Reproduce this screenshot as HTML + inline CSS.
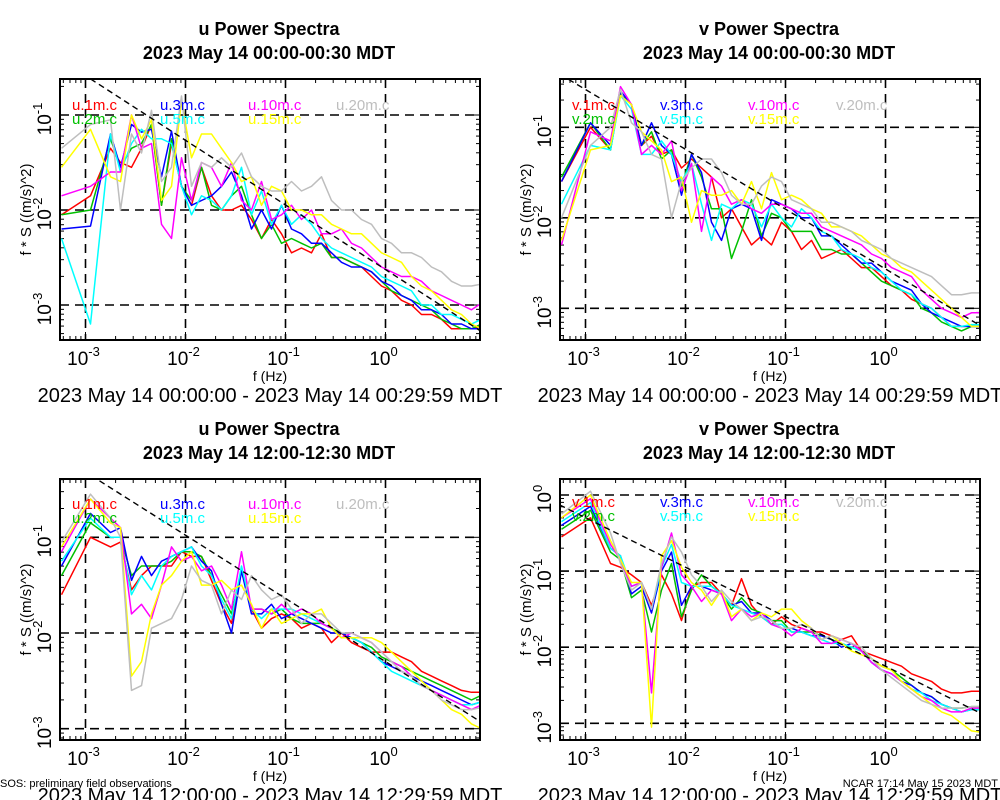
<!DOCTYPE html>
<html><head><meta charset="utf-8"><style>
html,body{margin:0;padding:0;background:#fff;}
svg{display:block;font-family:"Liberation Sans",Arial,sans-serif;}
</style></head><body>
<svg id="chart" width="1000" height="800" viewBox="0 0 1000 800" xmlns="http://www.w3.org/2000/svg"></svg>
<script>
// log10 frequency (Hz) sample points
const freqLog = [-3.24,-2.95,-2.75,-2.65,-2.54,-2.44,-2.34,-2.24,-2.14,-2.04,-1.94,-1.84,-1.74,-1.64,-1.54,-1.44,-1.34,-1.24,-1.14,-1.04,-0.94,-0.84,-0.74,-0.64,-0.54,-0.44,-0.34,-0.24,-0.14,-0.04,0.06,0.16,0.26,0.36,0.46,0.56,0.66,0.76,0.86,0.96];
const seriesColors = ["#ff0000","#00c000","#0000ff","#00ffff","#ff00ff","#ffff00","#bebebe"];
const heightsU = ["1m","2m","3m","5m","10m","15m","20m"];
const xTickLabels = ["-3","-2","-1","0"];

// Panel 1: u, 00:00-00:30 (log10 of f*S)
const p1_red = [-2.05,-1.85,-1.35,-1.5,-1.55,-1.35,-1.1,-1.95,-1.3,-1.75,-1.95,-1.55,-1.85,-2.0,-2.0,-1.95,-2.1,-2.3,-2.1,-2.25,-2.45,-2.4,-2.45,-2.25,-2.5,-2.5,-2.55,-2.6,-2.7,-2.8,-2.85,-2.95,-3.0,-3.1,-3.1,-3.15,-3.25,-3.25,-3.25,-3.22];
const p1_green = [-2.05,-2.0,-1.25,-1.55,-1.35,-1.3,-1.1,-1.95,-1.25,-1.75,-1.9,-1.55,-1.95,-2.0,-1.85,-1.75,-2.05,-2.3,-2.15,-2.35,-2.3,-2.35,-2.4,-2.35,-2.5,-2.5,-2.55,-2.6,-2.65,-2.75,-2.85,-2.9,-2.95,-3.0,-3.05,-3.15,-3.2,-3.25,-3.25,-3.2];
const p1_blue = [-2.2,-2.17,-1.2,-1.55,-1.1,-1.18,-1.15,-1.65,-1.17,-1.75,-1.95,-1.9,-1.85,-1.75,-1.6,-1.85,-2.2,-2.0,-2.2,-1.95,-2.2,-2.25,-2.35,-2.35,-2.45,-2.55,-2.6,-2.6,-2.65,-2.75,-2.8,-2.9,-2.95,-3.05,-3.05,-3.1,-3.2,-3.2,-3.25,-3.25];
const p1_cyan = [-2.3,-3.2,-1.2,-1.6,-1.3,-1.15,-1.25,-1.25,-1.3,-1.75,-2.05,-1.85,-1.9,-2.0,-1.85,-1.55,-2.05,-1.8,-2.15,-1.95,-2.15,-2.05,-2.15,-2.3,-2.4,-2.45,-2.5,-2.55,-2.6,-2.7,-2.75,-2.8,-2.85,-3.0,-3.0,-3.1,-3.1,-3.15,-3.2,-3.15];
const p1_magenta = [-1.85,-1.75,-1.6,-1.6,-1.0,-1.35,-1.3,-2.15,-2.3,-1.45,-1.9,-1.5,-1.55,-1.75,-1.5,-1.9,-2.0,-1.7,-2.1,-2.05,-1.95,-2.1,-2.0,-2.25,-2.25,-2.2,-2.35,-2.4,-2.5,-2.6,-2.65,-2.7,-2.7,-2.75,-2.85,-2.9,-2.95,-3.0,-3.05,-2.98];
const p1_yellow = [-1.55,-1.15,-1.65,-1.7,-1.0,-1.25,-1.05,-1.9,-1.75,-0.85,-1.45,-1.2,-1.2,-1.35,-1.5,-1.7,-1.65,-1.95,-1.75,-1.8,-2.0,-2.0,-2.05,-2.05,-2.15,-2.2,-2.25,-2.25,-2.35,-2.45,-2.5,-2.55,-2.7,-2.8,-2.85,-2.95,-3.05,-3.1,-3.2,-3.25];
const p1_gray = [-1.35,-1.1,-1.05,-2.0,-1.2,-1.4,-0.95,-1.7,-1.55,-0.8,-1.75,-1.5,-1.55,-1.45,-1.55,-1.4,-1.65,-1.75,-1.8,-1.8,-1.7,-1.8,-1.75,-1.65,-1.9,-2.0,-2.0,-2.1,-2.15,-2.3,-2.35,-2.45,-2.45,-2.5,-2.6,-2.65,-2.75,-2.8,-2.8,-2.78];

// Panel 2: v, 00:00-00:30
const p2_red = [-1.6,-1.0,-1.25,-0.62,-0.75,-1.2,-1.1,-1.3,-1.25,-1.45,-1.35,-1.45,-1.55,-2.0,-1.9,-2.1,-2.3,-2.2,-2.3,-2.05,-2.15,-2.35,-2.25,-2.45,-2.4,-2.35,-2.45,-2.55,-2.55,-2.65,-2.75,-2.8,-2.9,-2.95,-3.0,-3.1,-3.2,-3.2,-3.2,-3.2];
const p2_green = [-1.55,-0.95,-1.25,-0.62,-0.75,-1.2,-1.05,-1.35,-1.25,-1.65,-1.3,-1.55,-1.9,-1.9,-2.45,-2.15,-1.8,-2.2,-1.95,-2.0,-2.15,-2.15,-2.15,-2.35,-2.35,-2.4,-2.4,-2.5,-2.6,-2.7,-2.75,-2.8,-2.85,-3.0,-3.05,-3.15,-3.2,-3.25,-3.2,-3.2];
const p2_blue = [-1.6,-0.95,-1.2,-0.6,-0.75,-1.2,-0.95,-1.2,-1.3,-1.75,-1.3,-1.5,-2.05,-2.25,-1.9,-1.85,-1.9,-2.25,-1.8,-1.85,-1.9,-2.0,-2.0,-2.2,-2.2,-2.3,-2.4,-2.5,-2.5,-2.6,-2.7,-2.75,-2.8,-2.95,-3.05,-3.1,-3.15,-3.2,-3.2,-3.2];
const p2_cyan = [-1.85,-1.2,-1.25,-0.65,-0.8,-1.3,-1.3,-1.15,-1.3,-1.6,-1.4,-1.85,-2.25,-1.85,-1.9,-1.8,-1.85,-2.1,-1.85,-2.0,-2.1,-1.9,-2.0,-2.15,-2.2,-2.35,-2.4,-2.45,-2.55,-2.6,-2.7,-2.8,-2.85,-2.95,-3.0,-3.1,-3.2,-3.2,-3.18,-3.18];
const p2_magenta = [-2.3,-1.05,-1.15,-0.55,-0.75,-1.3,-1.2,-1.3,-1.15,-1.7,-1.4,-2.15,-1.55,-1.65,-1.85,-1.8,-1.9,-1.95,-1.85,-1.85,-1.9,-1.95,-1.95,-2.1,-2.15,-2.2,-2.25,-2.3,-2.4,-2.45,-2.55,-2.6,-2.65,-2.8,-2.9,-3.0,-3.05,-3.1,-3.05,-3.05];
const p2_yellow = [-2.25,-1.25,-1.2,-0.65,-0.75,-1.05,-1.15,-1.25,-1.6,-1.55,-2.05,-1.7,-1.75,-1.75,-1.7,-1.85,-1.6,-1.9,-1.5,-1.8,-1.75,-1.8,-1.9,-1.95,-2.1,-2.1,-2.15,-2.2,-2.3,-2.4,-2.45,-2.55,-2.6,-2.7,-2.8,-2.9,-3.0,-3.1,-3.2,-3.2];
const p2_gray = [-2.0,-1.2,-1.0,-0.58,-0.95,-1.05,-1.3,-1.35,-2.0,-1.6,-1.45,-1.35,-1.35,-1.5,-1.75,-1.85,-1.85,-1.65,-1.55,-1.6,-1.8,-1.85,-1.9,-2.05,-2.05,-2.1,-2.15,-2.25,-2.3,-2.35,-2.45,-2.5,-2.55,-2.6,-2.65,-2.75,-2.85,-2.85,-2.83,-2.83];

// Panel 3: u, 12:00-12:30
const p3_red = [-1.6,-1.0,-1.1,-1.05,-1.55,-1.4,-1.3,-1.3,-1.3,-1.15,-1.2,-1.2,-1.45,-1.7,-1.9,-1.35,-1.75,-1.95,-1.85,-1.8,-1.85,-1.95,-1.9,-1.95,-2.1,-2.0,-2.1,-2.15,-2.2,-2.2,-2.2,-2.25,-2.3,-2.4,-2.45,-2.5,-2.55,-2.6,-2.62,-2.62];
const p3_green = [-1.4,-0.85,-1.0,-1.0,-1.4,-1.3,-1.3,-1.3,-1.25,-1.15,-1.15,-1.2,-1.4,-1.6,-1.8,-1.35,-1.75,-1.75,-1.8,-1.75,-1.85,-1.9,-1.9,-1.9,-1.95,-2.0,-2.05,-2.1,-2.15,-2.25,-2.3,-2.35,-2.4,-2.45,-2.5,-2.55,-2.6,-2.65,-2.7,-2.65];
const p3_blue = [-1.3,-0.75,-0.95,-0.9,-1.45,-1.2,-1.4,-1.25,-1.2,-1.15,-1.1,-1.25,-1.35,-1.7,-2.0,-1.35,-1.8,-1.8,-1.7,-1.85,-1.8,-1.85,-1.9,-1.95,-2.0,-2.0,-2.05,-2.1,-2.2,-2.3,-2.35,-2.4,-2.45,-2.5,-2.55,-2.6,-2.65,-2.7,-2.75,-2.72];
const p3_cyan = [-1.25,-0.8,-1.0,-1.0,-1.6,-1.4,-1.55,-1.3,-1.2,-1.15,-1.1,-1.3,-1.4,-1.65,-1.85,-1.3,-1.75,-1.85,-1.75,-1.75,-1.75,-1.8,-1.85,-1.9,-1.95,-2.05,-2.05,-2.1,-2.2,-2.3,-2.4,-2.45,-2.5,-2.55,-2.6,-2.65,-2.7,-2.75,-2.75,-2.72];
const p3_magenta = [-1.15,-0.6,-0.8,-0.9,-1.8,-1.7,-1.85,-1.5,-1.1,-1.25,-1.2,-1.35,-1.3,-1.5,-1.75,-1.15,-1.75,-1.75,-1.8,-1.7,-1.8,-1.75,-1.8,-1.9,-1.95,-2.05,-2.0,-2.05,-2.1,-2.2,-2.3,-2.35,-2.45,-2.55,-2.6,-2.65,-2.7,-2.75,-2.8,-2.75];
const p3_yellow = [-1.1,-0.6,-0.85,-0.9,-2.45,-2.3,-1.8,-1.5,-1.4,-1.25,-1.15,-1.5,-1.5,-1.45,-1.55,-1.5,-1.7,-1.95,-1.75,-1.9,-1.85,-1.8,-1.8,-1.75,-1.95,-2.05,-2.05,-2.05,-2.05,-2.1,-2.2,-2.3,-2.4,-2.5,-2.6,-2.7,-2.8,-2.85,-2.95,-3.0];
const p3_gray = [-1.05,-0.55,-0.8,-1.0,-2.6,-2.55,-1.95,-1.9,-1.85,-1.65,-1.3,-1.45,-1.5,-1.8,-1.55,-1.65,-1.4,-1.55,-1.65,-1.6,-1.75,-1.9,-1.8,-1.8,-1.9,-2.0,-2.0,-2.05,-2.1,-2.2,-2.3,-2.4,-2.45,-2.55,-2.6,-2.7,-2.75,-2.8,-2.8,-2.78];

// Panel 4: v, 12:00-12:30
const p4_red = [-0.55,-0.3,-0.9,-0.95,-1.05,-1.15,-1.45,-1.05,-1.3,-1.65,-1.2,-1.15,-1.15,-1.3,-1.45,-1.1,-1.45,-1.6,-1.7,-1.6,-1.7,-1.75,-1.8,-1.8,-1.85,-1.9,-1.85,-2.05,-2.1,-2.15,-2.2,-2.25,-2.35,-2.4,-2.45,-2.55,-2.6,-2.6,-2.58,-2.58];
const p4_green = [-0.45,-0.2,-0.75,-0.85,-1.35,-1.25,-1.8,-1.25,-0.9,-1.6,-1.25,-1.05,-1.2,-1.3,-1.5,-1.35,-1.5,-1.55,-1.65,-1.65,-1.8,-1.8,-1.8,-1.85,-1.9,-1.95,-2.0,-2.05,-2.15,-2.25,-2.3,-2.4,-2.5,-2.6,-2.65,-2.75,-2.8,-2.8,-2.78,-2.78];
const p4_blue = [-0.4,-0.15,-0.7,-0.8,-1.3,-1.2,-1.55,-1.0,-0.75,-1.45,-1.2,-1.2,-1.25,-1.3,-1.45,-1.4,-1.55,-1.55,-1.65,-1.75,-1.75,-1.8,-1.85,-1.85,-1.9,-2.0,-1.95,-2.05,-2.2,-2.3,-2.35,-2.45,-2.5,-2.6,-2.65,-2.75,-2.8,-2.85,-2.82,-2.82];
const p4_cyan = [-0.35,-0.1,-0.7,-0.8,-1.2,-1.15,-1.5,-0.95,-0.65,-1.15,-1.2,-1.2,-1.2,-1.3,-1.45,-1.5,-1.55,-1.6,-1.7,-1.7,-1.8,-1.8,-1.85,-1.9,-1.95,-1.95,-2.0,-2.05,-2.2,-2.3,-2.35,-2.45,-2.55,-2.6,-2.7,-2.75,-2.8,-2.85,-2.82,-2.82];
const p4_magenta = [-0.3,-0.05,-0.65,-0.85,-1.2,-1.15,-2.6,-0.95,-0.5,-1.05,-1.2,-1.4,-1.25,-1.3,-1.65,-1.5,-1.6,-1.55,-1.7,-1.75,-1.85,-1.75,-1.8,-1.95,-1.95,-1.9,-1.95,-2.05,-2.2,-2.3,-2.35,-2.45,-2.55,-2.65,-2.7,-2.8,-2.85,-2.85,-2.8,-2.8];
const p4_yellow = [-0.3,0.0,-0.6,-0.85,-1.15,-1.15,-3.05,-0.8,-0.6,-0.95,-1.15,-1.25,-1.45,-1.25,-1.6,-1.5,-1.65,-1.55,-1.6,-1.5,-1.5,-1.65,-1.75,-1.9,-1.85,-1.95,-2.05,-2.1,-2.15,-2.25,-2.3,-2.45,-2.55,-2.65,-2.75,-2.85,-2.9,-3.0,-3.1,-3.12];
const p4_gray = [-0.25,0.05,-0.5,-0.9,-1.25,-1.15,-1.5,-0.9,-0.55,-0.75,-1.05,-1.2,-1.4,-1.25,-1.4,-1.5,-1.65,-1.6,-1.65,-1.75,-1.75,-1.7,-1.75,-1.9,-1.85,-1.9,-1.95,-2.0,-2.15,-2.3,-2.4,-2.5,-2.6,-2.7,-2.75,-2.8,-2.8,-2.8,-2.78,-2.78];

// reference slope lines: [log f start, log S start, log f end, log S end]
const p1_ref = [-2.95,-0.62,0.96,-3.28];
const p2_ref = [-3.17,-0.47,0.96,-3.2];
const p3_ref = [-2.86,-0.41,0.97,-2.94];
const p4_ref = [-3.26,-0.13,0.97,-2.88];

const NS = "http://www.w3.org/2000/svg";
const svg = document.getElementById("chart");
function mk(tag, attrs, parent){
  const e = document.createElementNS(NS, tag);
  for (const k in attrs) e.setAttribute(k, attrs[k]);
  (parent||svg).appendChild(e);
  return e;
}

const panels = [
  {comp:"u", ox:0, oy:0, t1:"u Power Spectra", t2:"2023 May 14 00:00-00:30 MDT", range:"2023 May 14 00:00:00 - 2023 May 14 00:29:59 MDT",
   yTop:79, yBot:340, yDec:{"-1":115,"-2":210,"-3":305}, series:[p1_red,p1_green,p1_blue,p1_cyan,p1_magenta,p1_yellow,p1_gray], ref:p1_ref, leg:[110,124]},
  {comp:"v", ox:500, oy:0, t1:"v Power Spectra", t2:"2023 May 14 00:00-00:30 MDT", range:"2023 May 14 00:00:00 - 2023 May 14 00:29:59 MDT",
   yTop:79, yBot:340, yDec:{"-1":127.3,"-2":217.7,"-3":308.3}, series:[p2_red,p2_green,p2_blue,p2_cyan,p2_magenta,p2_yellow,p2_gray], ref:p2_ref, leg:[110,124]},
  {comp:"u", ox:0, oy:400, t1:"u Power Spectra", t2:"2023 May 14 12:00-12:30 MDT", range:"2023 May 14 12:00:00 - 2023 May 14 12:29:59 MDT",
   yTop:479, yBot:740, yDec:{"-1":537.3,"-2":633.3,"-3":728.7}, series:[p3_red,p3_green,p3_blue,p3_cyan,p3_magenta,p3_yellow,p3_gray], ref:p3_ref, leg:[509,523]},
  {comp:"v", ox:500, oy:400, t1:"v Power Spectra", t2:"2023 May 14 12:00-12:30 MDT", range:"2023 May 14 12:00:00 - 2023 May 14 12:29:59 MDT",
   yTop:479, yBot:740, yDec:{"0":495,"-1":571.3,"-2":647.7,"-3":723.3}, series:[p4_red,p4_green,p4_blue,p4_cyan,p4_magenta,p4_yellow,p4_gray], ref:p4_ref, leg:[507,521]}
];
// legend order: [label index into heightsU, color index, column, row]
const legendOrder = [[0,0,0,0],[1,1,0,1],[2,2,1,0],[3,3,1,1],[4,4,2,0],[5,5,2,1],[6,6,3,0]];

panels.forEach((p, pi) => {
  const g = mk("g", {});
  
  
  const x0 = p.ox + 60, x1 = p.ox + 480;
  const xs = lf => p.ox + 85.5 + 100 * (lf + 3);
  const keys = Object.keys(p.yDec).map(Number).sort((a,b)=>b-a);
  const ka = keys[0], kb = keys[keys.length-1];
  const per = (p.yDec[String(kb)] - p.yDec[String(ka)]) / (ka - kb);
  const ys = lv => p.yDec[String(ka)] + (ka - lv) * per;
  const cx = p.ox + 269;

  let t = mk("text", {x:cx, y:p.oy+35, "text-anchor":"middle", "font-size":18, "font-weight":"bold"}, g);
  t.textContent = p.t1;
  
  
  t = mk("text", {x:cx, y:p.oy+59, "text-anchor":"middle", "font-size":18, "font-weight":"bold"}, g);
  t.textContent = p.t2;
  
  

  const clipId = "clip" + pi;
  const cp = mk("clipPath", {id:clipId}, g);
  mk("rect", {x:x0, y:p.yTop, width:x1-x0, height:p.yBot-p.yTop}, cp);

  const grid = mk("g", {stroke:"#000", "stroke-width":1.6, "stroke-dasharray":"9,6"}, g);
  
  
  for (let d=-3; d<=0; d++) mk("line", {x1:xs(d), x2:xs(d), y1:p.yTop, y2:p.yBot}, grid);
  keys.forEach(k => mk("line", {x1:x0, x2:x1, y1:ys(k), y2:ys(k)}, grid));

  const tk = mk("g", {stroke:"#000", "stroke-width":1}, g);
  for (let d=-4; d<=1; d++) for (let m=1; m<10; m++) {
    const x = xs(d + Math.log10(m));
    if (x < x0 || x > x1) continue;
    const L = m===1 ? 8 : 4;
    mk("line", {x1:x, x2:x, y1:p.yBot, y2:p.yBot-L}, tk);
    mk("line", {x1:x, x2:x, y1:p.yTop, y2:p.yTop+L}, tk);
  }
  for (let d=-4; d<=1; d++) for (let m=1; m<10; m++) {
    const y = ys(d + Math.log10(m));
    if (y < p.yTop || y > p.yBot) continue;
    const L = m===1 ? 8 : 4;
    mk("line", {x1:x0, x2:x0+L, y1:y, y2:y}, tk);
    mk("line", {x1:x1, x2:x1-L, y1:y, y2:y}, tk);
  }

  const sg = mk("g", {"clip-path":"url(#"+clipId+")", fill:"none", "stroke-width":1.5, "stroke-linejoin":"round"}, g);
  p.series.forEach((vals, si) => {
    const d = vals.map((v,i)=>(i?"L":"M")+xs(freqLog[i]).toFixed(1)+","+ys(v).toFixed(1)).join("");
    const path = mk("path", {d:d, stroke:seriesColors[si]}, sg);
    
    
  });
  const r = p.ref;
  const rl = mk("line", {x1:xs(r[0]), y1:ys(r[1]), x2:xs(r[2]), y2:ys(r[3]), stroke:"#000", "stroke-width":1.4, "stroke-dasharray":"6,4"}, sg);
  
  

  const fr = mk("rect", {x:x0, y:p.yTop, width:x1-x0, height:p.yBot-p.yTop, fill:"none", stroke:"#000", "stroke-width":2}, g);
  
  

  const colX = [p.ox+72, p.ox+160, p.ox+248, p.ox+336];
  legendOrder.forEach(([hi, ci, col, row]) => {
    const lt = mk("text", {x:colX[col], y:p.leg[row], "font-size":15, fill:seriesColors[ci]}, g);
    lt.textContent = p.comp + "." + heightsU[hi] + ".c";
    
    
  });

  xTickLabels.forEach((lab, i) => {
    const xt = mk("text", {x:xs(i-3)-2, y:p.oy+365, "text-anchor":"middle", "font-size":19}, g);
    
    
    const a = mk("tspan", {}, xt); a.textContent = "10";
    const b = mk("tspan", {dy:-9, "font-size":13}, xt); b.textContent = lab;
  });
  keys.forEach(k => {
    const y = ys(k);
    const yt = mk("text", {x:0, y:0, "text-anchor":"middle", "font-size":19, transform:"translate("+(p.ox+51)+","+(y+4)+") rotate(-90)"}, g);
    
    
    const a = mk("tspan", {}, yt); a.textContent = "10";
    const b = mk("tspan", {dy:-9, "font-size":13}, yt); b.textContent = String(k);
  });

  t = mk("text", {x:p.ox+270, y:p.oy+381, "text-anchor":"middle", "font-size":14}, g);
  t.textContent = "f (Hz)";
  
  
  t = mk("text", {x:0, y:0, "text-anchor":"middle", "font-size":15, transform:"translate("+(p.ox+31)+","+((p.yTop+p.yBot)/2)+") rotate(-90)"}, g);
  t.textContent = "f * S ((m/s)^2)";
  
  
  t = mk("text", {x:p.ox+270, y:p.oy+402, "text-anchor":"middle", "font-size":20}, g);
  t.textContent = p.range;
  
  
});

let f = mk("text", {x:0, y:787, "font-size":11});
f.textContent = "SOS: preliminary field observations";


f = mk("text", {x:998, y:787, "font-size":11, "text-anchor":"end"});
f.textContent = "NCAR 17:14 May 15 2023 MDT";


</script>
</body></html>
